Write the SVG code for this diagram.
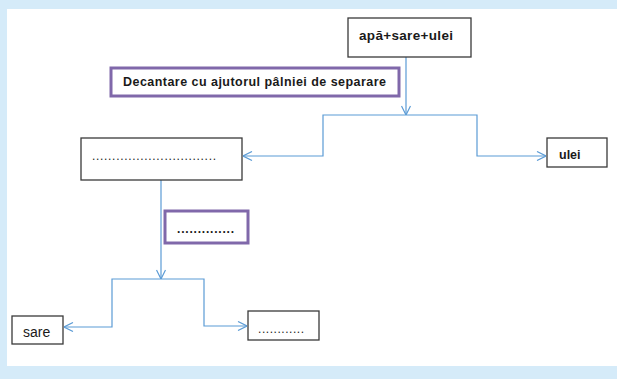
<svg xmlns="http://www.w3.org/2000/svg" width="617" height="379" viewBox="0 0 617 379">
<style>
.box{fill:#fff;stroke:#3a3a3a;stroke-width:1.3}
.pbox{fill:#fff;stroke:#8068aa;stroke-width:3}
.t{font-family:"Liberation Sans",Arial,sans-serif;fill:#1a1a1a}
.b{font-weight:bold}
.c{fill:none;stroke:#5b9bd5;stroke-width:1.2}
</style>
<defs>
<marker id="ah" viewBox="0 0 10 10" refX="10" refY="5" markerWidth="10" markerHeight="10" markerUnits="userSpaceOnUse" orient="auto">
<path d="M1,0.5 L10,5 L1,9.5" fill="none" stroke="#5b9bd5" stroke-width="1.2"/>
</marker>
</defs>
<rect x="0" y="0" width="617" height="379" fill="#d5ebf9"/>
<rect x="7" y="9" width="610" height="357" fill="#fff"/>
<g id="connectors">
<path class="c" d="M406,57 V115" marker-end="url(#ah)"/>
<path class="c" d="M406,115 H323 V156 H243" marker-end="url(#ah)"/>
<path class="c" d="M406,115 H477 V156 H546" marker-end="url(#ah)"/>
<path class="c" d="M161,180 V279" marker-end="url(#ah)"/>
<path class="c" d="M161,279 H112 V327 H64" marker-end="url(#ah)"/>
<path class="c" d="M161,279 H204 V326 H247" marker-end="url(#ah)"/>
</g>
<g id="n-mix">
<rect class="box" x="348" y="18" width="123" height="39"/>
<text class="t b" x="359" y="40" font-size="13.5" textLength="94">apă+sare+ulei</text>
</g>
<g id="n-decant">
<rect class="pbox" x="111" y="68" width="288" height="28"/>
<text class="t b" x="123" y="86" font-size="12.5" textLength="263">Decantare cu ajutorul pâlniei de separare</text>
</g>
<g id="n-mid">
<rect class="box" x="81" y="138" width="161" height="42"/>
<text class="t" x="92" y="160" font-size="12" textLength="124">...............................</text>
</g>
<g id="n-ulei">
<rect class="box" x="547" y="138" width="60" height="29"/>
<text class="t b" x="559" y="159" font-size="12.5">ulei</text>
</g>
<g id="n-proc2">
<rect class="pbox" x="165" y="211" width="83" height="32"/>
<text class="t b" x="177" y="233" font-size="12" textLength="57">..............</text>
</g>
<g id="n-sare">
<rect class="box" x="12" y="316" width="51" height="28"/>
<text class="t" x="23" y="337" font-size="14">sare</text>
</g>
<g id="n-rest">
<rect class="box" x="248" y="311" width="71" height="29"/>
<text class="t" x="258" y="333" font-size="12" textLength="46">............</text>
</g>
</svg>
